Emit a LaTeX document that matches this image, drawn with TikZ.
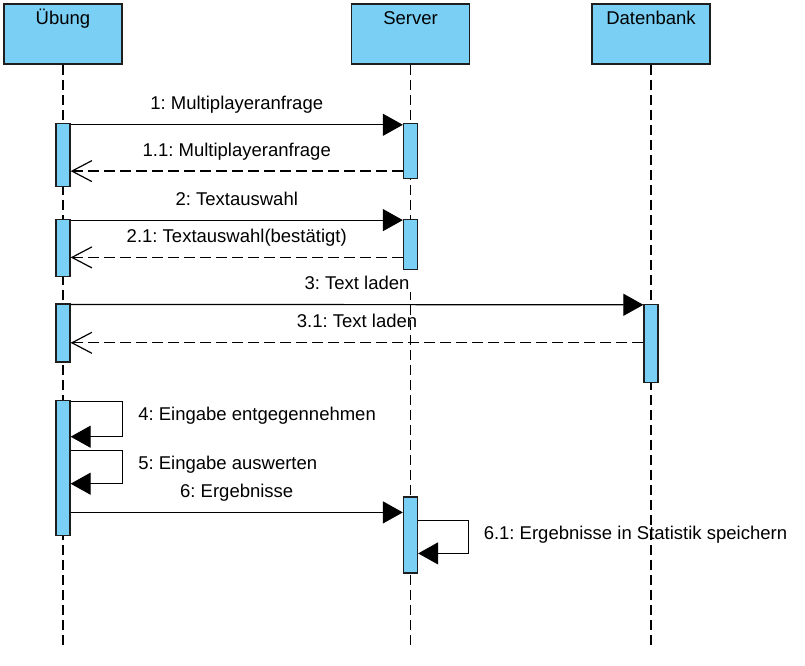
\documentclass[tikz,border=0pt]{standalone}
\usepackage{fontspec}
\setmainfont{Liberation Sans}
\usetikzlibrary{arrows.meta, positioning}
\definecolor{seqBlue}{RGB}{122, 207, 245}
\definecolor{seqLine}{RGB}{30, 30, 30}
\frenchspacing

\begin{document}
\begin{tikzpicture}[
    x=1pt, y=-1pt,
    font=\fontsize{18.5}{22}\selectfont,
    % Estilo para la cabecera de cada participante
    head/.style={
        draw=seqLine,
        fill=seqBlue,
        line width=1.6pt,
        minimum width=118pt,
        inner ysep=4pt,
        text height=16pt,
        text depth=36pt
    },
    % Estilo para barras de activacion
    actbar/.style={
        draw=seqLine,
        fill=seqBlue,
        line width=1.3pt,
        minimum width=14pt,
        inner sep=0pt
    },
    % Linea de vida
    lifeline/.style={
        line width=1.3pt,
        dash pattern=on 10pt off 5pt
    },
    % Mensaje sincrono
    call/.style={
        -{Triangle[length=20pt, width=22pt]},
        line width=1.2pt
    },
    % Mensaje de respuesta
    reply/.style={
        -{Straight Barb[length=20pt, width=21pt, line width=1.2pt]},
        line width=1.3pt,
        dash pattern=on 11pt off 5pt
    },
    msglabel/.style={
        anchor=base,
        yshift=15pt,
        inner sep=2pt
    },
    selflabel/.style={
        anchor=base west,
        xshift=15pt,
        yshift=-19pt,
        inner sep=0pt
    }
]
    \useasboundingbox (0,0) rectangle (805,665);

    % --- 1. Participantes ---
    \node[head] (uebung) at (63,34) {Übung};
    \node[head] (server) at (410.5,34) {Server};
    \node[head] (datenbank) at (651,34) {Datenbank};

    % --- 2. Lineas de vida ---
    \coordinate (uebung_end) at (uebung.south |- 0,647);
    \coordinate (server_end) at (server.south |- 0,647);
    \coordinate (datenbank_end) at (datenbank.south |- 0,647);
    \draw[lifeline] (uebung.south) -- (uebung_end);
    \draw[lifeline] (server.south) -- (server_end);
    \draw[lifeline] (datenbank.south) -- (datenbank_end);

    % --- 3. Barras de activacion ---
    \node[actbar, minimum height=63pt, below=58pt of uebung] (u1) {};
    \node[actbar, minimum height=55pt, below=58pt of server] (s1) {};
    \node[actbar, minimum height=57pt, below=32pt of u1] (u2) {};
    \node[actbar, minimum height=50pt, below=40pt of s1] (s2) {};
    \node[actbar, minimum height=58pt, below=26pt of u2] (u3) {};
    \node[actbar, minimum height=78pt, below=239pt of datenbank] (d1) {};
    \node[actbar, minimum height=135pt, below=37pt of u3] (u4) {};
    \node[actbar, minimum height=76pt, below=226pt of s2] (s3) {};

    % --- 4. Mensajes ---
    \draw[call] ([yshift=-2pt]u1.north east) -- ([yshift=-2pt]s1.north west)
        node[msglabel, midway] {1: Multiplayeranfrage};
    \draw[reply] ([yshift=8pt]s1.south west) -- ([yshift=8pt]s1.south west -| u1.east)
        node[msglabel, midway] {1.1: Multiplayeranfrage};

    \draw[call] ([yshift=-1pt]u2.north east) -- ([yshift=-1pt]s2.north west)
        node[msglabel, midway] {2: Textauswahl};
    \draw[reply] ([yshift=13pt]s2.south west) -- ([yshift=13pt]s2.south west -| u2.east)
        node[msglabel, midway] {2.1: Textauswahl(bestätigt)};

    \draw[call] ([yshift=-1pt]u3.north east) -- ([yshift=-1pt]d1.north west)
        node[msglabel, midway, fill=white] {3: Text laden};
    \draw[reply] ([yshift=-39pt]d1.north west) -- ([yshift=-39pt]d1.north west -| u3.east)
        node[msglabel, midway] {3.1: Text laden};

    % Mensajes a si mismo
    \draw[call] ([yshift=-2pt]u4.north east) -- ++(52,0)
        node[selflabel] {4: Eingabe entgegennehmen} -- ++(0,35) -- ([yshift=-37pt]u4.north east);
    \draw[call] ([yshift=-51pt]u4.north east) -- ++(52,0)
        node[selflabel] {5: Eingabe auswerten} -- ++(0,33) -- ([yshift=-84pt]u4.north east);

    \draw[call] ([yshift=-16pt]s3.north west -| u4.east) -- ([yshift=-16pt]s3.north west)
        node[msglabel, midway] {6: Ergebnisse};
    \draw[call] ([yshift=-24pt]s3.north east) -- ++(50,0)
        node[selflabel] {6.1: Ergebnisse in Statistik speichern} -- ++(0,33) -- ([yshift=-57pt]s3.north east);

\end{tikzpicture}
\end{document}
